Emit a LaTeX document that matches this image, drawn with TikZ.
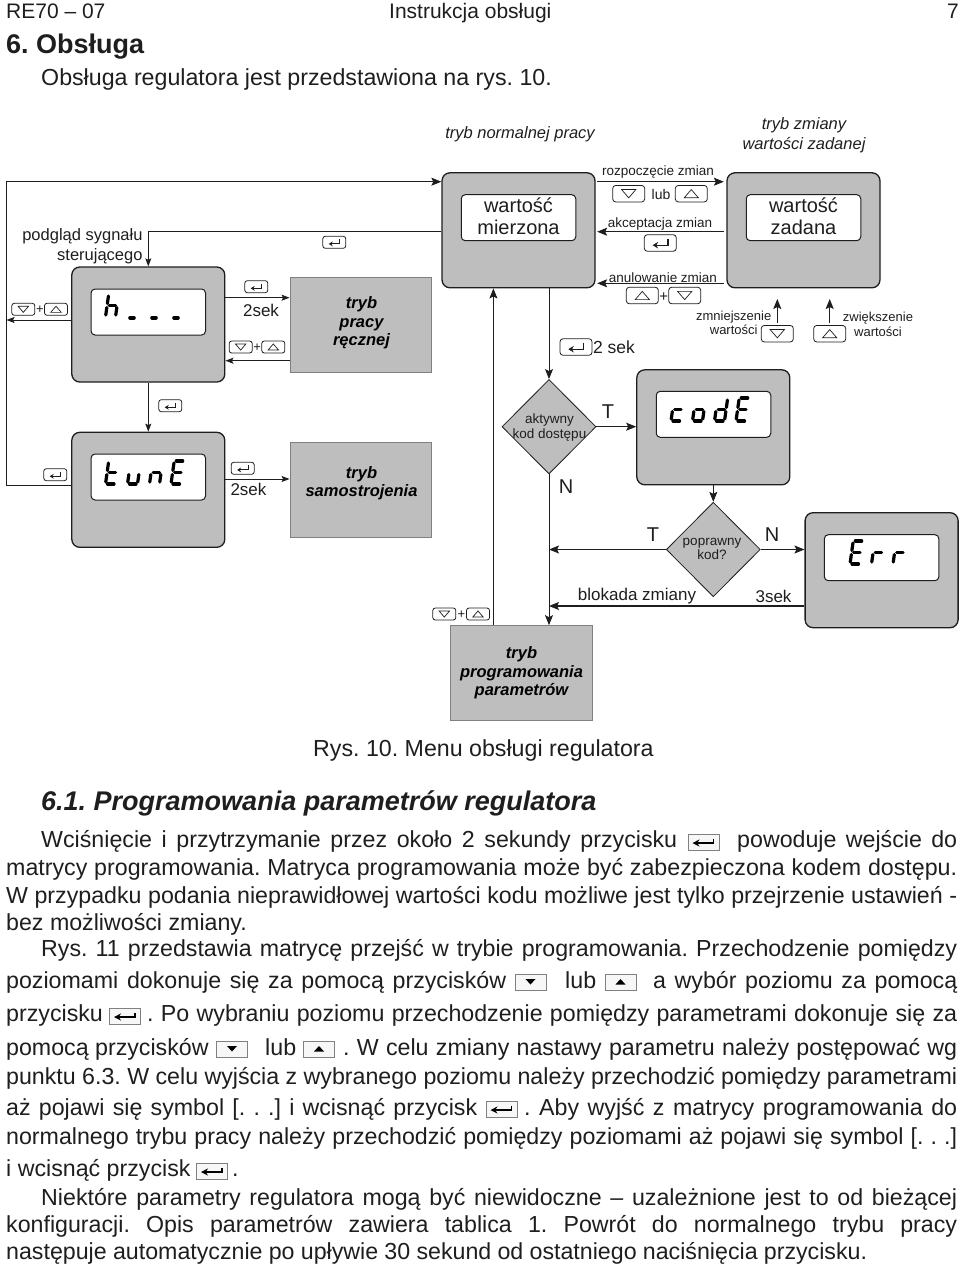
\documentclass[tikz,border=0pt]{standalone}
\usepackage{fontspec}
\setmainfont{Liberation Sans}
\usetikzlibrary{arrows.meta,shapes.geometric}
\definecolor{panel}{HTML}{BEBEBE}
\definecolor{ink}{HTML}{1E1E1E}
\newcommand{\fsz}[1]{\fontsize{#1}{#1}\selectfont}
\AtBeginDocument{\frenchspacing}
\tikzset{
  arr/.style={draw=ink,line width=0.85pt,-{Stealth[length=10pt,width=8pt,inset=2pt]}},
  arrS/.style={draw=ink,line width=0.85pt,-{Stealth[length=8pt,width=6pt,inset=1.5pt]}},
  device/.style={draw=ink,fill=panel,line width=1.3pt,rounded corners=8pt,minimum width=153pt,minimum height=115pt,inner sep=0pt},
  screen/.style={draw=ink,fill=white,line width=1pt,rounded corners=4pt,minimum width=114.5pt,minimum height=46pt,inner sep=0pt},
  screentext/.style={inner sep=0pt,align=center,font=\fsz{20},text=ink},
  mode/.style={draw=black!50,fill=panel,line width=0.8pt,inner sep=0pt,minimum height=94.5pt},
  modetext/.style={inner sep=0pt,align=center,font=\fsz{16.5}\bfseries\itshape,text=black},
  gate/.style={diamond,draw=ink,fill=panel,line width=0.8pt,inner sep=0pt,minimum width=94pt,minimum height=94.5pt,aspect=1},
  keyS/.style={draw=ink,line width=0.8pt,rounded corners=2.5pt,minimum width=23pt,minimum height=12pt,inner sep=0pt},
  keyL/.style={draw=ink,line width=0.8pt,rounded corners=3pt,minimum width=32pt,minimum height=16.5pt,inner sep=0pt},
  keyB/.style={draw=black!50,fill=black!3,line width=0.8pt,minimum width=31pt,minimum height=16pt,inner sep=0pt},
  lbl/.style={inner sep=0pt,text=ink,align=center},
  bodytxt/.style={inner sep=0pt,anchor=base west,font=\fsz{23.2},text=ink},
  glyph/.style={draw=black,line width=3.2pt,line cap=round},
}
% seven-segment parts
\newcommand{\SegA}{\draw[glyph] (2,-23)--(8.5,-23);}
\newcommand{\SegB}{\draw[glyph] (10,-21)--(10,-13.5);}
\newcommand{\SegC}{\draw[glyph] (10,-9.5)--(10,-2);}
\newcommand{\SegD}{\draw[glyph] (2,0)--(8.5,0);}
\newcommand{\SegE}{\draw[glyph] (0,-9.5)--(0,-2);}
\newcommand{\SegF}{\draw[glyph] (0,-21)--(0,-13.5);}
\newcommand{\SegG}{\draw[glyph] (2,-11.5)--(8.5,-11.5);}
\newcommand{\digitat}[3]{\begin{scope}[shift={(#1,#2)},xslant=0.14]#3\end{scope}}
% key symbols
\newcommand{\symup}[2]{\draw[ink,line width=0.7pt,line join=miter] ([shift={(-#2*6.2pt,-#2*3.6pt)}]#1.center) -- ([shift={(#2*6.2pt,-#2*3.6pt)}]#1.center) -- ([shift={(0pt,#2*3.6pt)}]#1.center) -- cycle;}
\newcommand{\symdown}[2]{\draw[ink,line width=0.7pt,line join=miter] ([shift={(-#2*6.2pt,#2*3.6pt)}]#1.center) -- ([shift={(#2*6.2pt,#2*3.6pt)}]#1.center) -- ([shift={(0pt,-#2*3.6pt)}]#1.center) -- cycle;}
\newcommand{\symenter}[2]{\draw[ink,line width=#2*1.1pt,-{Stealth[length=#2*5pt,width=#2*6pt]}] ([shift={(#2*7pt,#2*4pt)}]#1.center) -- ([shift={(#2*7pt,#2*-2pt)}]#1.center) -- ([shift={(#2*-7pt,#2*-2pt)}]#1.center);}
\newcommand{\kk}[5]{\node[#1] (#2) at (#3,#4) {}; #5}
% key in the body text
\newcommand{\bu}[3]{\node[keyB] (#1) at (#2,#3) {}; \fill[black] ([shift={(-5pt,-2.5pt)}]#1.center) -- ([shift={(5pt,-2.5pt)}]#1.center) -- ([shift={(0pt,3pt)}]#1.center) -- cycle;}
\newcommand{\bd}[3]{\node[keyB] (#1) at (#2,#3) {}; \fill[black] ([shift={(-5pt,3pt)}]#1.center) -- ([shift={(5pt,3pt)}]#1.center) -- ([shift={(0pt,-2.5pt)}]#1.center) -- cycle;}
\newcommand{\be}[3]{\node[keyB] (#1) at (#2,#3) {}; \draw[black,line width=1.5pt,-{Stealth[length=7pt,width=7pt]}] ([shift={(10pt,3pt)}]#1.center) -- ([shift={(10pt,-1pt)}]#1.center) -- ([shift={(-11pt,-1pt)}]#1.center);}
\newcommand{\jl}[5]{\node[bodytxt] (#1) at (#2,#4) {\makebox[\dimexpr #3pt-#2pt\relax][s]{#5}};}
\newcommand{\pl}[4]{\node[bodytxt] (#1) at (#2,#3) {#4};}
\begin{document}
\begin{tikzpicture}[x=1pt,y=-1pt]
\useasboundingbox (0,0) rectangle (960,1264);
% header
\node[bodytxt,font=\fsz{21}] (hA) at (6,18) {RE70 – 07};
\node[bodytxt,font=\fsz{21}] (hB) at (389,18) {Instrukcja obsługi};
\node[bodytxt,font=\fsz{21}] (hC) at (947,18) {7};
\node[bodytxt,font=\fsz{27}\bfseries] (sec) at (6,53) {6. Obsługa};
\pl{intro}{41}{85.5}{Obsługa regulatora jest przedstawiona na rys. 10.}
% devices
\node[device] (hold) at (148.3,324.5) {};
\node[device] (norm) at (518.5,230.3) {};
\node[device] (setp) at (803.5,230.3) {};
\node[device] (tune) at (148.3,489.8) {};
\node[device] (code) at (713.3,427.3) {};
\node[device] (err) at (881.6,570.2) {};
\node[screen] (sh) at (148.3,312) {};
\node[screen] (sn) at (518.5,217.7) {};
\node[screen] (ss) at (803.5,217.7) {};
\node[screen] (st) at (148.3,477) {};
\node[screen] (sc) at (713.5,414.3) {};
\node[screen] (se) at (881.6,557.7) {};
\node[screentext] (snt) at (518.5,216) {wartość\\[2pt]mierzona};
\node[screentext] (sst) at (803.5,216) {wartość\\[2pt]zadana};
% modes
\node[mode,minimum width=141.7pt] (manual) at (360.8,325) {};
\node[mode,minimum width=141.7pt] (self) at (360.8,489.7) {};
\node[mode,minimum width=141.8pt] (prog) at (521.3,672.8) {};
\node[modetext] (manualt) at (361.5,323) {tryb\\[2pt]pracy\\[2pt]ręcznej};
\node[modetext] (selft) at (361.5,483) {tryb\\[2pt]samostrojenia};
\node[modetext] (progt) at (521.5,672.8) {tryb\\[2pt]programowania\\[2pt]parametrów};
% decisions
\node[gate] (dA) at (549,426.7) {};
\node[gate] (dB) at (713.3,549.5) {};
\node[lbl,font=\fsz{13.5}] (dAt) at (549.5,427.5) {aktywny\\[1pt]kod dostępu};
\node[lbl,font=\fsz{13.5}] (dBt) at (712,549) {poprawny\\[1pt]kod?};
% helpers
\coordinate (fx) at (6.5,0);
\coordinate (r182) at (0,181.7);
\coordinate (r232) at (0,231.7);
\coordinate (r283) at (0,283.3);
\coordinate (r298) at (0,297.7);
\coordinate (r320) at (0,320);
\coordinate (r361) at (0,360.7);
\coordinate (r479) at (0,479);
\coordinate (r485) at (0,485);
\coordinate (r606) at (0,606);
\coordinate (vx) at (493.4,0);
\coordinate (downA) at (777.3,323);
\coordinate (downB) at (777.3,299);
\coordinate (upA) at (829.7,323);
\coordinate (upB) at (829.7,299);
% connectors
\draw[arr] (tune.west |- r485) -- (fx |- r485) -- (fx |- r182) -- (norm.west |- r182);
\draw[arrS] (norm.west |- r232) -- (hold.north |- r232) -- (hold.north);
\draw[arrS] (hold.south) -- (tune.north);
\draw[arrS] (hold.west |- r320) -- (fx |- r320);
\draw[arrS] (hold.east |- r298) -- (manual.west |- r298);
\draw[arrS] (manual.west |- r361) -- (hold.east |- r361);
\draw[arrS] (tune.east |- r479) -- (self.west |- r479);
\draw[arr] (vx |- prog.north) -- (vx |- norm.south);
\draw[arr] (norm.south -| dA.north) -- (dA.north);
\draw[arr] (dA.east) -- (code.west |- dA.east);
\draw[arr] (dA.south) -- (prog.north -| dA.south);
\draw[arr] (code.south) -- (dB.north);
\draw[arr] (dB.west) -- (dA.south |- dB.west);
\draw[arr] (dB.east) -- (err.west |- dB.east);
\draw[arr,line width=1.1pt] (err.west |- r606) -- (dA.south |- r606);
\draw[arr] ([xshift=1.5pt]norm.east |- r182) -- ([xshift=-2.5pt]setp.west |- r182);
\draw[arr] ([xshift=-2.5pt]setp.west |- r232) -- ([xshift=1.5pt]norm.east |- r232);
\draw[arr] ([xshift=-2.5pt]setp.west |- r283) -- ([xshift=1.5pt]norm.east |- r283);
\draw[arr] (downA) -- (downB);
\draw[arr] (upA) -- (upB);
% seven-segment readouts
\digitat{105.5}{317}{\SegF\SegE\SegG\SegC}
\draw[glyph,line width=3.6pt] (130,317.7)--(134,317.7) (152,317.7)--(156,317.7) (174,317.7)--(178,317.7);
\digitat{105.5}{484}{\SegF\SegE\SegG\SegD}
\digitat{127.5}{484}{\SegE\SegD\SegC}
\digitat{149.5}{484}{\SegE\SegG\SegC}
\digitat{171}{484}{\SegA\SegF\SegG\SegE\SegD}
\digitat{671}{421}{\SegG\SegE\SegD}
\digitat{692.5}{421}{\SegG\SegC\SegD\SegE}
\digitat{714.5}{421}{\SegB\SegC\SegG\SegE\SegD}
\digitat{736}{421}{\SegA\SegF\SegG\SegE\SegD}
\digitat{850}{564}{\SegA\SegF\SegG\SegE\SegD}
\digitat{871.5}{564}{\SegE\SegG}
\digitat{893}{564}{\SegE\SegG}
% small keys
\kk{keyS}{eA}{334.3}{242.3}{\symenter{eA}{0.8}}
\kk{keyS}{eB}{256.3}{286.7}{\symenter{eB}{0.8}}
\kk{keyS}{eC}{170.3}{405.7}{\symenter{eC}{0.8}}
\kk{keyS}{eD}{55.3}{474.7}{\symenter{eD}{0.8}}
\kk{keyS}{eE}{242.7}{468.3}{\symenter{eE}{0.8}}
\kk{keyS}{kA}{23.3}{309.3}{\symdown{kA}{0.85}}
\kk{keyS}{kB}{56}{309.3}{\symup{kB}{0.85}}
\node[lbl,font=\fsz{13}] (pA) at (40,310) {+};
\kk{keyS}{kC}{240.7}{347}{\symdown{kC}{0.85}}
\kk{keyS}{kD}{273.3}{347}{\symup{kD}{0.85}}
\node[lbl,font=\fsz{13}] (pB) at (257.2,347.7) {+};
\kk{keyS}{kE}{444.3}{614}{\symdown{kE}{0.85}}
\kk{keyS}{kF}{478}{614}{\symup{kF}{0.85}}
\node[lbl,font=\fsz{13}] (pC) at (461.3,615) {+};
% large keys
\kk{keyL}{lA}{628.7}{193.7}{\symdown{lA}{1.15}}
\kk{keyL}{lB}{691.3}{193.7}{\symup{lB}{1.15}}
\kk{keyL}{lC}{660.3}{243}{\symenter{lC}{1.1}}
\kk{keyL}{lD}{642.3}{295.5}{\symup{lD}{1.15}}
\kk{keyL}{lE}{684.7}{295.5}{\symdown{lE}{1.15}}
\kk{keyL}{lF}{777.3}{333.7}{\symdown{lF}{1.15}}
\kk{keyL}{lG}{829.7}{333.7}{\symup{lG}{1.15}}
\kk{keyL}{lH}{576}{347}{\symenter{lH}{1.1}}
\node[lbl,font=\fsz{15}] (pD) at (663.7,297) {+};
% labels
\node[lbl,font=\fsz{16.5}\itshape] (mA) at (520,134) {tryb normalnej pracy};
\node[lbl,font=\fsz{16.5}\itshape] (mB) at (804,135) {tryb zmiany\\[3pt]wartości zadanej};
\node[lbl,font=\fsz{16.5},align=right,anchor=east] (tA) at (142.7,246) {podgląd sygnału\\[3pt]sterującego};
\node[lbl,font=\fsz{17}] (tB) at (261,310) {2sek};
\node[lbl,font=\fsz{17}] (tC) at (248.5,489) {2sek};
\node[lbl,font=\fsz{17.5}] (tD) at (614,347) {2 sek};
\node[lbl,font=\fsz{13.5}] (tE) at (658,172) {rozpoczęcie zmian};
\node[lbl,font=\fsz{14}] (tF) at (661,194.7) {lub};
\node[lbl,font=\fsz{13.5}] (tG) at (660,224) {akceptacja zmian};
\node[lbl,font=\fsz{13.5}] (tH) at (663,277.5) {anulowanie zmian};
\node[lbl,font=\fsz{13}] (tI) at (733.7,323) {zmniejszenie\\[1.5pt]wartości};
\node[lbl,font=\fsz{13}] (tJ) at (878,324.5) {zwiększenie\\[1.5pt]wartości};
\node[lbl,font=\fsz{20}] (tK) at (608,412) {T};
\node[lbl,font=\fsz{20}] (tL) at (566,487) {N};
\node[lbl,font=\fsz{20}] (tM) at (653,535) {T};
\node[lbl,font=\fsz{20}] (tN) at (772,535) {N};
\node[lbl,font=\fsz{17}] (tO) at (637,596) {blokada zmiany};
\node[lbl,font=\fsz{17}] (tP) at (773.5,596) {3sek};
% captions and body
\pl{cap}{313}{756}{Rys. 10. Menu obsługi regulatora}
\node[bodytxt,font=\fsz{27}\bfseries\itshape] (subsec) at (41,810) {6.1. Programowania parametrów regulatora};
\jl{bA}{41}{677}{847}{Wciśnięcie i przytrzymanie przez około 2 sekundy przycisku}
\be{oA}{703.5}{842}
\jl{bB}{737}{957}{847}{powoduje wejście do}
\jl{bC}{6}{957}{875.5}{matrycy programowania. Matryca programowania może być zabezpieczona kodem dostępu.}
\jl{bD}{6}{957}{903}{W przypadku podania nieprawidłowej wartości kodu możliwe jest tylko przejrzenie ustawień -}
\pl{bE}{6}{930}{bez możliwości zmiany.}
\jl{bF}{41}{957}{956}{Rys. 11 przedstawia matrycę przejść w trybie programowania. Przechodzenie pomiędzy}
\jl{bG}{6}{506}{988}{poziomami dokonuje się za pomocą przycisków}
\bd{oB}{530.5}{982}
\pl{bH}{565}{988}{lub}
\bu{oC}{620.5}{982}
\jl{bI}{653}{957}{988}{a wybór poziomu za pomocą}
\pl{bJ}{6}{1021.5}{przycisku}
\be{oD}{125}{1016}
\jl{bK}{147}{957}{1021.5}{. Po wybraniu poziomu przechodzenie pomiędzy parametrami dokonuje się za}
\pl{bL}{6}{1055}{pomocą przycisków}
\bd{oE}{232}{1049}
\pl{bM}{265}{1055}{lub}
\bu{oF}{319}{1049}
\jl{bN}{343}{957}{1055}{. W celu zmiany nastawy parametru należy postępować wg}
\jl{bO}{6}{957}{1084}{punktu 6.3. W celu wyjścia z wybranego poziomu należy przechodzić pomiędzy parametrami}
\jl{bP}{6}{477}{1115}{aż pojawi się symbol [. . .] i wcisnąć przycisk}
\be{oG}{501.5}{1109}
\jl{bQ}{524}{957}{1115}{. Aby wyjść z matrycy programowania do}
\jl{bR}{6}{957}{1144}{normalnego trybu pracy należy przechodzić pomiędzy poziomami aż pojawi się symbol [. . .]}
\pl{bS}{6}{1176}{i wcisnąć przycisk}
\be{oH}{212}{1171}
\pl{bT}{232}{1176}{.}
\jl{bU}{41}{957}{1205}{Niektóre parametry regulatora mogą być niewidoczne – uzależnione jest to od bieżącej}
\jl{bV}{6}{957}{1232}{konfiguracji. Opis parametrów zawiera tablica 1. Powrót do normalnego trybu pracy}
\jl{bW}{6}{867}{1259}{następuje automatycznie po upływie 30 sekund od ostatniego naciśnięcia przycisku.}
\end{tikzpicture}
\end{document}
